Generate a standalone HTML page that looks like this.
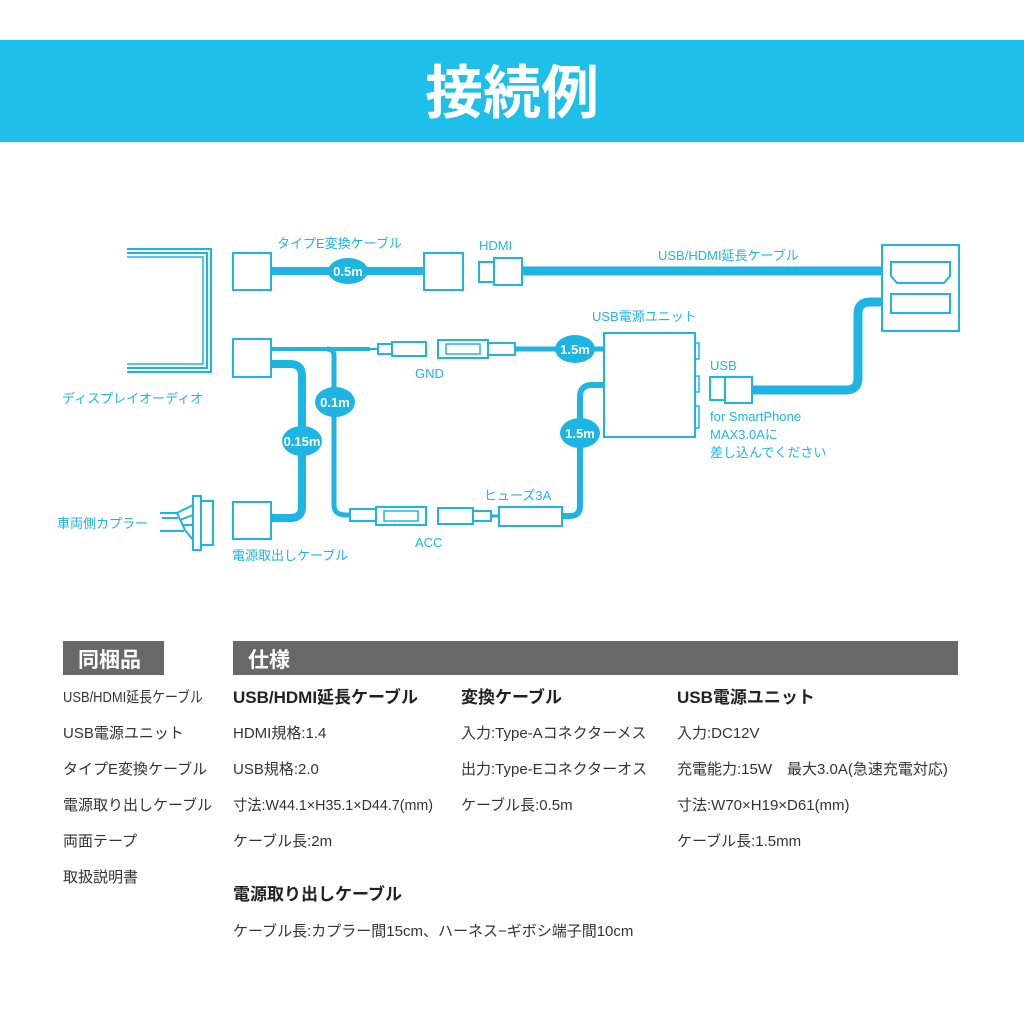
<!DOCTYPE html>
<html><head><meta charset="utf-8"><style>
body{margin:0;background:#fff;}
svg{display:block}
text{font-family:"Liberation Sans","Noto Sans CJK JP",sans-serif;}
</style></head><body>
<svg width="1024" height="1024" viewBox="0 0 1024 1024" xmlns="http://www.w3.org/2000/svg">
<rect width="1024" height="1024" fill="#fff"/>
<rect x="0" y="40" width="1024" height="102" fill="#1ebfe9"/>
<text x="512" y="113" text-anchor="middle" font-size="58" font-weight="bold" fill="#fff">接続例</text>

<g stroke="#1fb5e3" fill="none">
 <!-- display bracket -->
 <path d="M127 249 H211 V372 H127" stroke-width="2"/>
 <path d="M127 253 H207 V368 H127" stroke-width="2"/>
 <path d="M127 257 H203 V364 H127" stroke-width="1.5"/>
 <!-- coupler -->
 <rect x="193" y="496" width="8" height="54" stroke-width="2"/>
 <rect x="201" y="501" width="12" height="44" stroke-width="2"/>
 <path d="M160 513 L177 513 L193 505 M177 513 L185 530 L193 540 M180 520 L193 515 M182 525 L193 525 M160 531 L184 531" stroke-width="2"/>
 <path d="M162 518 H178" stroke-width="2"/>

 <!-- boxes -->
 <rect x="233" y="253" width="38" height="37" stroke-width="2"/>
 <rect x="424" y="253" width="39" height="37" stroke-width="2"/>
 <rect x="233" y="339" width="38" height="38" stroke-width="2"/>
 <rect x="233" y="502" width="38" height="37" stroke-width="2"/>
 <!-- cables -->
 <line x1="272" y1="271" x2="424" y2="271" stroke-width="8"/>
 <line x1="522" y1="271" x2="883" y2="271" stroke-width="9"/>
 <path d="M272 349 H370" stroke-width="4"/>
 <path d="M327 349 Q334 349 334 356 V505 Q334 515 346 515 H350" stroke-width="5"/>
 <path d="M272 364 H290 Q302 364 302 376 V507 Q302 518 290 518 H272" stroke-width="8"/>
 <path d="M515 349 H604" stroke-width="5"/>
 <path d="M604 385 H592 Q580 385 580 397 V506 Q580 516 570 516 H562" stroke-width="6"/>
 <path d="M752 390 H846 Q858 390 858 378 V314 Q858 302 870 302 H883" stroke-width="9"/>
 <!-- HDMI plug -->
 <rect x="479" y="262" width="15" height="20" stroke-width="2"/>
 <rect x="494" y="258" width="28" height="27" stroke-width="2"/>
 <!-- USB plug -->
 <rect x="710" y="377" width="15" height="23" stroke-width="2"/>
 <rect x="725" y="377" width="27" height="26" stroke-width="2"/>
 <!-- right box -->
 <rect x="882" y="245" width="77" height="86" stroke-width="2"/>
 <path d="M891 262 H950 V276 L944 283 H897 L891 276 Z" stroke-width="2"/>
 <rect x="891" y="294" width="59" height="19" stroke-width="2"/>
 <!-- USB unit -->
 <rect x="604" y="333" width="91" height="104" stroke-width="2"/>
 <rect x="695" y="343" width="4" height="16" stroke-width="1.5"/>
 <rect x="695" y="376" width="4" height="16" stroke-width="1.5"/>
 <rect x="695" y="406" width="4" height="22" stroke-width="1.5"/>
 <!-- fuse -->
 <rect x="499" y="507" width="63" height="19" stroke-width="2"/>
 <!-- GND connectors -->
 <path d="M370 349 H378" stroke-width="2"/>
 <rect x="378" y="344" width="14" height="10" stroke-width="2"/>
 <rect x="392" y="342" width="34" height="14" stroke-width="2"/>
 <rect x="438" y="340" width="50" height="18" stroke-width="2"/>
 <rect x="446" y="344" width="34" height="10" stroke-width="1.5"/>
 <rect x="488" y="343" width="27" height="12" stroke-width="2"/>
 <!-- ACC connectors -->
 <rect x="350" y="509" width="26" height="12" stroke-width="2"/>
 <rect x="376" y="507" width="50" height="18" stroke-width="2"/>
 <rect x="384" y="511" width="34" height="10" stroke-width="1.5"/>
 <rect x="438" y="508" width="35" height="16" stroke-width="2"/>
 <rect x="473" y="511" width="18" height="10" stroke-width="2"/>
 <path d="M491 516 H499" stroke-width="3"/>
</g>

<!-- length ellipses -->
<g fill="#1fb5e3">
 <ellipse cx="348" cy="271" rx="20" ry="13"/>
 <ellipse cx="335" cy="402" rx="20" ry="15"/>
 <ellipse cx="302" cy="441" rx="20" ry="15"/>
 <ellipse cx="575" cy="349" rx="20" ry="14"/>
 <ellipse cx="580" cy="433" rx="20" ry="15"/>
</g>
<g fill="#fff" font-size="13" font-weight="bold" text-anchor="middle">
 <text x="348" y="276">0.5m</text>
 <text x="335" y="407">0.1m</text>
 <text x="302" y="446">0.15m</text>
 <text x="575" y="354">1.5m</text>
 <text x="580" y="438">1.5m</text>
</g>

<g fill="#1fb5e3" font-size="13">
 <text x="277" y="248">タイプE変換ケーブル</text>
 <text x="479" y="250">HDMI</text>
 <text x="658" y="260">USB/HDMI延長ケーブル</text>
 <text x="592" y="321">USB電源ユニット</text>
 <text x="415" y="378">GND</text>
 <text x="710" y="370">USB</text>
 <text x="710" y="421">for SmartPhone</text>
 <text x="710" y="439">MAX3.0Aに</text>
 <text x="710" y="457">差し込んでください</text>
 <text x="484" y="500">ヒューズ3A</text>
 <text x="415" y="547">ACC</text>
 <text x="232" y="560">電源取出しケーブル</text>
 <text x="62" y="403">ディスプレイオーディオ</text>
 <text x="57" y="528">車両側カプラー</text>
</g>

<!-- bottom -->
<rect x="63" y="641" width="101" height="34" fill="#686868"/>
<rect x="233" y="641" width="725" height="34" fill="#686868"/>
<text x="78" y="667" font-size="21" font-weight="bold" fill="#fff">同梱品</text>
<text x="248" y="667" font-size="21" font-weight="bold" fill="#fff">仕様</text>

<g font-size="15" fill="#333">
 <text x="63" y="702" textLength="140" lengthAdjust="spacingAndGlyphs">USB/HDMI延長ケーブル</text>
 <text x="63" y="738">USB電源ユニット</text>
 <text x="63" y="774">タイプE変換ケーブル</text>
 <text x="63" y="810">電源取り出しケーブル</text>
 <text x="63" y="846">両面テープ</text>
 <text x="63" y="882">取扱説明書</text>

 <text x="233" y="738">HDMI規格:1.4</text>
 <text x="233" y="774">USB規格:2.0</text>
 <text x="233" y="810" textLength="200" lengthAdjust="spacingAndGlyphs">寸法:W44.1×H35.1×D44.7(mm)</text>
 <text x="233" y="846">ケーブル長:2m</text>

 <text x="461" y="738">入力:Type-Aコネクターメス</text>
 <text x="461" y="774">出力:Type-Eコネクターオス</text>
 <text x="461" y="810">ケーブル長:0.5m</text>

 <text x="677" y="738">入力:DC12V</text>
 <text x="677" y="774">充電能力:15W　最大3.0A(急速充電対応)</text>
 <text x="677" y="810">寸法:W70×H19×D61(mm)</text>
 <text x="677" y="846">ケーブル長:1.5mm</text>

 <text x="233" y="936">ケーブル長:カプラー間15cm、ハーネス−ギボシ端子間10cm</text>
</g>
<g font-size="17" font-weight="bold" fill="#222">
 <text x="233" y="703">USB/HDMI延長ケーブル</text>
 <text x="461" y="703">変換ケーブル</text>
 <text x="677" y="703">USB電源ユニット</text>
 <text x="233" y="900">電源取り出しケーブル</text>
</g>
</svg>
</body></html>
